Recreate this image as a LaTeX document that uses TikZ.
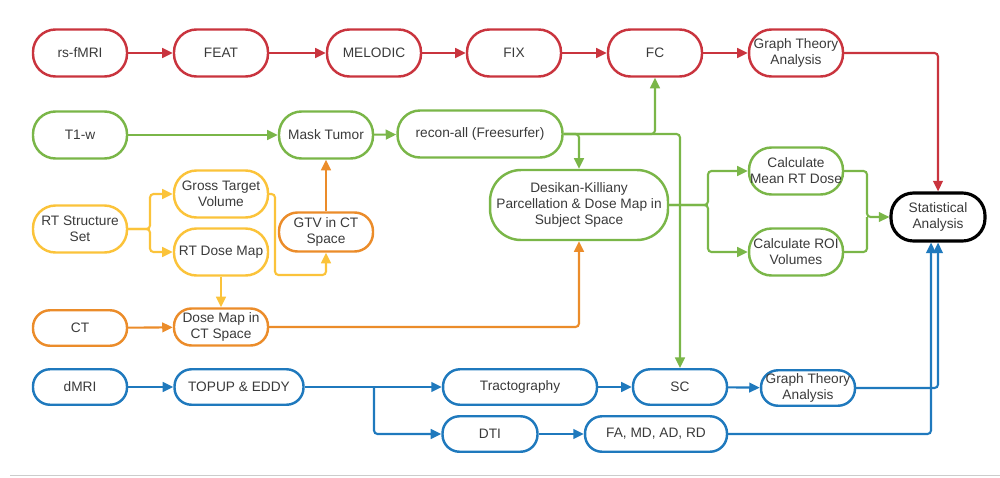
\documentclass[tikz,border=0pt]{standalone}
\usepackage{fontspec}
\setmainfont{Liberation Sans}
\usetikzlibrary{arrows.meta}
\definecolor{cred}{HTML}{C9343E}
\definecolor{cgreen}{HTML}{7AB648}
\definecolor{cyellow}{HTML}{FBC33A}
\definecolor{corange}{HTML}{EB8C2A}
\definecolor{cblue}{HTML}{1F79BD}
\definecolor{ctext}{HTML}{3A3A3A}
\begin{document}
\begin{tikzpicture}[x=0.02cm,y=-0.02cm,
  bx/.style={draw, line width=1.4pt, align=center, inner sep=0pt, text=ctext,
    font=\fontsize{7.8}{9}\selectfont, minimum width=1.88cm, minimum height=0.94cm, rounded corners=0.45cm},
  sm/.style={minimum height=0.71cm, rounded corners=0.34cm},
  ln/.style={line width=1.2pt, rounded corners=2pt, -{Triangle[length=6pt,width=5.5pt]}},
  pl/.style={line width=1.2pt, rounded corners=2pt}]
\useasboundingbox (0,0) rectangle (1000,477);
% red row
\node[bx, draw=cred] (rsf) at (80,53) {rs-fMRI};
\node[bx, draw=cred] (feat) at (221,53) {FEAT};
\node[bx, draw=cred] (mel) at (374,53) {MELODIC};
\node[bx, draw=cred] (fix) at (514,53) {FIX};
\node[bx, draw=cred] (fc) at (655,53) {FC};
\node[bx, draw=cred] (gta) at (796,53) {Graph Theory\\Analysis};
% green
\node[bx, draw=cgreen] (t1) at (80,135) {T1-w};
\node[bx, draw=cgreen] (mask) at (326,135) {Mask Tumor};
\node[bx, draw=cgreen, minimum width=3.3cm] (recon) at (480,134) {recon-all (Freesurfer)};
\node[bx, draw=cgreen, minimum width=3.56cm, minimum height=1.4cm, rounded corners=0.62cm] (dk) at (579,205) {Desikan-Killiany\\Parcellation \& Dose Map in\\Subject Space};
\node[bx, draw=cgreen] (mean) at (796,171) {Calculate\\Mean RT Dose};
\node[bx, draw=cgreen] (roi) at (796,252) {Calculate ROI\\Volumes};
\node[bx, draw=black, line width=1.8pt, minimum height=0.96cm] (stat) at (938,217) {Statistical\\Analysis};
% yellow
\node[bx, draw=cyellow] (rts) at (80,229) {RT Structure\\Set};
\node[bx, draw=cyellow] (gtv) at (221,194) {Gross Target\\Volume};
\node[bx, draw=cyellow] (dose) at (221,252) {RT Dose Map};
% orange
\node[bx, draw=corange, minimum height=0.78cm, rounded corners=0.37cm] (gtvct) at (326,232) {GTV in CT\\Space};
\node[bx, draw=corange, sm] (ct) at (80,328) {CT};
\node[bx, draw=corange, minimum height=0.74cm, rounded corners=0.35cm] (dmct) at (221,327) {Dose Map in\\CT Space};
% blue
\node[bx, draw=cblue, sm] (dmri) at (80,387) {dMRI};
\node[bx, draw=cblue, sm, minimum width=2.58cm] (topup) at (239,387) {TOPUP \& EDDY};
\node[bx, draw=cblue, sm, minimum width=3.08cm] (tract) at (520,387) {Tractography};
\node[bx, draw=cblue, sm] (sc) at (680,387) {SC};
\node[bx, draw=cblue, sm] (gtb) at (808,388) {Graph Theory\\Analysis};
\node[bx, draw=cblue, sm, minimum width=1.9cm] (dti) at (490,434) {DTI};
\node[bx, draw=cblue, sm, minimum width=2.84cm] (fa) at (656,434) {FA, MD, AD, RD};
% coordinates
\coordinate (dj) at (708,205);
\coordinate (mj) at (867,217);
\coordinate (ys) at (150,229);
\coordinate (g1) at (275,275);
\coordinate (b1) at (374,387);
% red connectors
\draw[ln, cred] (rsf) -- (feat);
\draw[ln, cred] (feat) -- (mel);
\draw[ln, cred] (mel) -- (fix);
\draw[ln, cred] (fix) -- (fc);
\draw[ln, cred] (fc) -- (gta);
\draw[ln, cred] (gta.east) -| (stat.north);
% green connectors
\draw[ln, cgreen] (t1) -- (mask);
\draw[ln, cgreen] (mask) -- (recon);
\draw[ln, cgreen] (recon.east) -| (fc.south);
\draw[ln, cgreen] (recon.east) -| (sc.north);
\draw[ln, cgreen] (recon.east) -| (dk.north);
\draw[ln, cgreen] (dk.east) -- (dj) |- (mean.west);
\draw[ln, cgreen] (dk.east) -- (dj) |- (roi.west);
\draw[ln, cgreen] (mean.east) -| (mj) -- (stat.west);
\draw[pl, cgreen] (roi.east) -| (mj);
% yellow connectors
\draw[ln, cyellow] (rts.east) -- (ys) |- (gtv.west);
\draw[ln, cyellow] (rts.east) -- (ys) |- (dose.west);
\draw[ln, cyellow] (gtv.east) -| (g1) -| (gtvct.south);
\draw[ln, cyellow] (dose) -- (dmct);
% orange connectors
\draw[ln, corange] (gtvct) -- (mask);
\draw[ln, corange] (ct) -- (dmct);
\draw[ln, corange] (dmct.east) -| (dk.south);
% blue connectors
\draw[ln, cblue] (dmri) -- (topup);
\draw[ln, cblue] (topup) -- (tract);
\draw[ln, cblue] (b1) |- (dti.west);
\draw[ln, cblue] (tract) -- (sc);
\draw[ln, cblue] (sc) -- (gtb);
\draw[ln, cblue] (dti) -- (fa);
\draw[ln, cblue] (gtb.east) -| (stat.south);
\draw[ln, cblue] (fa.east) -| ([xshift=-0.14cm]stat.south);
% bottom rule
\draw[line width=1pt, black!20] (10,475.5) -- (1000,475.5);
\end{tikzpicture}
\end{document}
